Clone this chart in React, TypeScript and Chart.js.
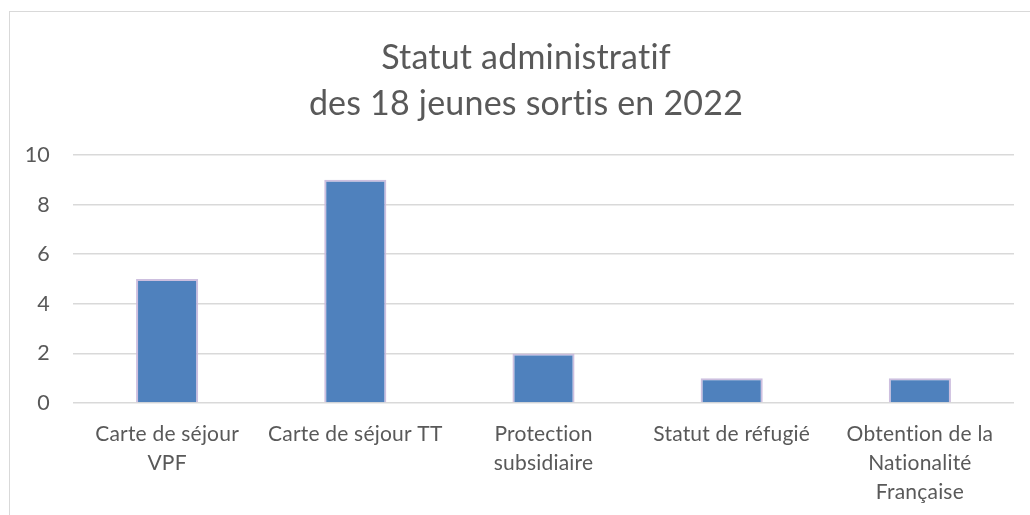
import React, { useEffect, useRef } from "react";
import { Chart, registerables } from "chart.js";

Chart.register(...registerables);

const categories: (string | string[])[] = [
  ["Carte de séjour", "VPF"],
  "Carte de séjour TT",
  ["Protection", "subsidiaire"],
  "Statut de réfugié",
  ["Obtention de la", "Nationalité", "Française"],
];
const values: number[] = [5, 9, 2, 1, 1];
const titleLines: string[] = ["Statut administratif", "des 18 jeunes sortis en 2022"];
const FONT = "Lato, 'Open Sans', sans-serif";

const noLigaturePlugin = {
  id: "noLigatures",
  beforeDraw(chart: any) {
    try {
      (chart.ctx as any).letterSpacing = "0.2px";
    } catch (e) {}
  },
};

const titlePlugin = {
  id: "customTitle",
  afterDraw(chart: any) {
    const ctx = chart.ctx;
    ctx.save();
    try {
      (ctx as any).letterSpacing = "0.2px";
    } catch (e) {}
    ctx.fillStyle = "#595959";
    ctx.font = `34px ${FONT}`;
    ctx.textAlign = "center";
    ctx.textBaseline = "middle";
    ctx.fillText(titleLines[0], 526, 58);
    ctx.fillText(titleLines[1], 526, 104);
    ctx.restore();
  },
};

export default function App() {
  const ref = useRef<HTMLCanvasElement | null>(null);
  useEffect(() => {
    if (!ref.current) return;
    const chart = new Chart(ref.current, {
      type: "bar",
      data: {
        labels: categories,
        datasets: [
          {
            data: values,
            backgroundColor: "#4F81BD",
            borderColor: "rgba(200,184,220,0.9)",
            borderWidth: 2,
            barPercentage: 0.33,
            categoryPercentage: 1,
          },
        ],
      },
      options: {
        responsive: false,
        animation: false,
        layout: { padding: { top: 155, right: 16, left: 0, bottom: 0 } },
        plugins: {
          legend: { display: false },
          title: { display: false },
          tooltip: { enabled: false },
        },
        scales: {
          x: {
            grid: { display: false, drawTicks: false },
            border: { display: false },
            ticks: {
              color: "#595959",
              font: { family: FONT, size: 21, lineHeight: 1.38 },
              maxRotation: 0,
              autoSkip: false,
              padding: 17,
            },
            afterFit: (s: any) => {
              s.height = 112;
              s.paddingLeft = 0;
              s.paddingRight = 0;
            },
          },
          y: {
            min: 0,
            max: 10,
            grid: { color: "#d9d9d9", lineWidth: 1.5, drawTicks: false },
            border: { display: false },
            ticks: {
              stepSize: 2,
              color: "#595959",
              font: { family: FONT, size: 21.5 },
              padding: 23,
            },
            afterFit: (s: any) => {
              s.width = 73;
            },
          },
        },
      },
      plugins: [noLigaturePlugin, titlePlugin],
    });
    return () => chart.destroy();
  }, []);
  return (
    <div style={{ position: "fixed", left: 0, top: 0, width: 1030, height: 515, background: "#fff", overflow: "hidden" }}>
      <div
        style={{
          position: "absolute",
          left: 9,
          top: 11,
          width: 1100,
          height: 600,
          border: "1.5px solid #d9d9d9",
          boxSizing: "border-box",
        }}
      />
      <canvas ref={ref} width={1030} height={515} style={{ position: "absolute", left: 0, top: 0 }} />
    </div>
  );
}
